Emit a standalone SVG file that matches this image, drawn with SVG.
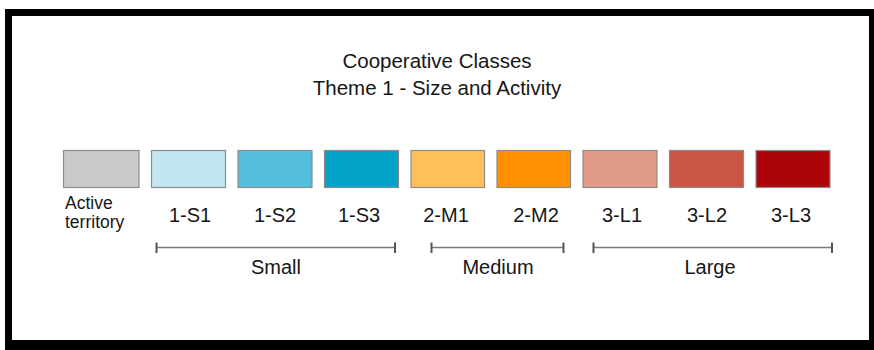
<svg xmlns="http://www.w3.org/2000/svg" width="874" height="350" viewBox="0 0 874 350">
  <style>
    text { font-family: "Liberation Sans", Arial, sans-serif; fill: #161616; }
    .title { font-size: 20.5px; text-anchor: middle; }
    .lbl { font-size: 20px; text-anchor: middle; }
    .small { font-size: 17.5px; }
    .sw { stroke: #8c8c8c; stroke-width: 1.2; }
    .bar { stroke: #7a7a7a; stroke-width: 1.6; fill: none; }
    .tick { stroke: #555; stroke-width: 2; fill: none; }
  </style>
  <rect x="0" y="0" width="874" height="350" fill="#ffffff"/>
  <g id="frame">
    <rect x="5" y="9" width="869" height="341" fill="#000000"/>
    <rect x="12" y="16" width="857" height="324" fill="#ffffff"/>
  </g>
  <g id="title">
    <text class="title" x="437" y="68">Cooperative Classes</text>
    <text class="title" x="437" y="95">Theme 1 - Size and Activity</text>
  </g>
  <g id="active">
    <rect class="sw" x="63.5" y="150.5" width="75.5" height="37" fill="#c9c9c9"/>
    <text class="small" x="65" y="209">Active</text>
    <text class="small" x="65" y="227.5">territory</text>
  </g>
  <g id="s1">
    <rect class="sw" x="151.5" y="150.5" width="74" height="37" fill="#c2e7f2"/>
    <text class="lbl" x="190" y="221.5">1-S1</text>
  </g>
  <g id="s2">
    <rect class="sw" x="238" y="150.5" width="74" height="37" fill="#55bfdb"/>
    <text class="lbl" x="275" y="221.5">1-S2</text>
  </g>
  <g id="s3">
    <rect class="sw" x="324.5" y="150.5" width="74" height="37" fill="#00a2c8"/>
    <text class="lbl" x="359" y="221.5">1-S3</text>
  </g>
  <g id="m1">
    <rect class="sw" x="411" y="150.5" width="73.5" height="37" fill="#ffc05b"/>
    <text class="lbl" x="446" y="221.5">2-M1</text>
  </g>
  <g id="m2">
    <rect class="sw" x="497" y="150.5" width="73.5" height="37" fill="#ff9100"/>
    <text class="lbl" x="536" y="221.5">2-M2</text>
  </g>
  <g id="l1">
    <rect class="sw" x="583" y="150.5" width="74" height="37" fill="#e09b89"/>
    <text class="lbl" x="622" y="221.5">3-L1</text>
  </g>
  <g id="l2">
    <rect class="sw" x="669.5" y="150.5" width="74" height="37" fill="#ca5545"/>
    <text class="lbl" x="707" y="221.5">3-L2</text>
  </g>
  <g id="l3">
    <rect class="sw" x="756" y="150.5" width="74" height="37" fill="#ab0509"/>
    <text class="lbl" x="791" y="221.5">3-L3</text>
  </g>
  <g id="connectors">
    <line class="bar" x1="156.5" y1="247.5" x2="395" y2="247.5"/>
    <line class="tick" x1="156.5" y1="242.5" x2="156.5" y2="253"/>
    <line class="tick" x1="395" y1="242.5" x2="395" y2="253"/>
    <line class="bar" x1="431.5" y1="247.5" x2="563.5" y2="247.5"/>
    <line class="tick" x1="431.5" y1="242.5" x2="431.5" y2="253"/>
    <line class="tick" x1="563.5" y1="242.5" x2="563.5" y2="253"/>
    <line class="bar" x1="593.5" y1="247.5" x2="832" y2="247.5"/>
    <line class="tick" x1="593.5" y1="242.5" x2="593.5" y2="253"/>
    <line class="tick" x1="832" y1="242.5" x2="832" y2="253"/>
  </g>
  <g id="groups">
    <text class="lbl" x="276" y="273.5">Small</text>
    <text class="lbl" x="498" y="273.5">Medium</text>
    <text class="lbl" x="710" y="273.5">Large</text>
  </g>
</svg>
